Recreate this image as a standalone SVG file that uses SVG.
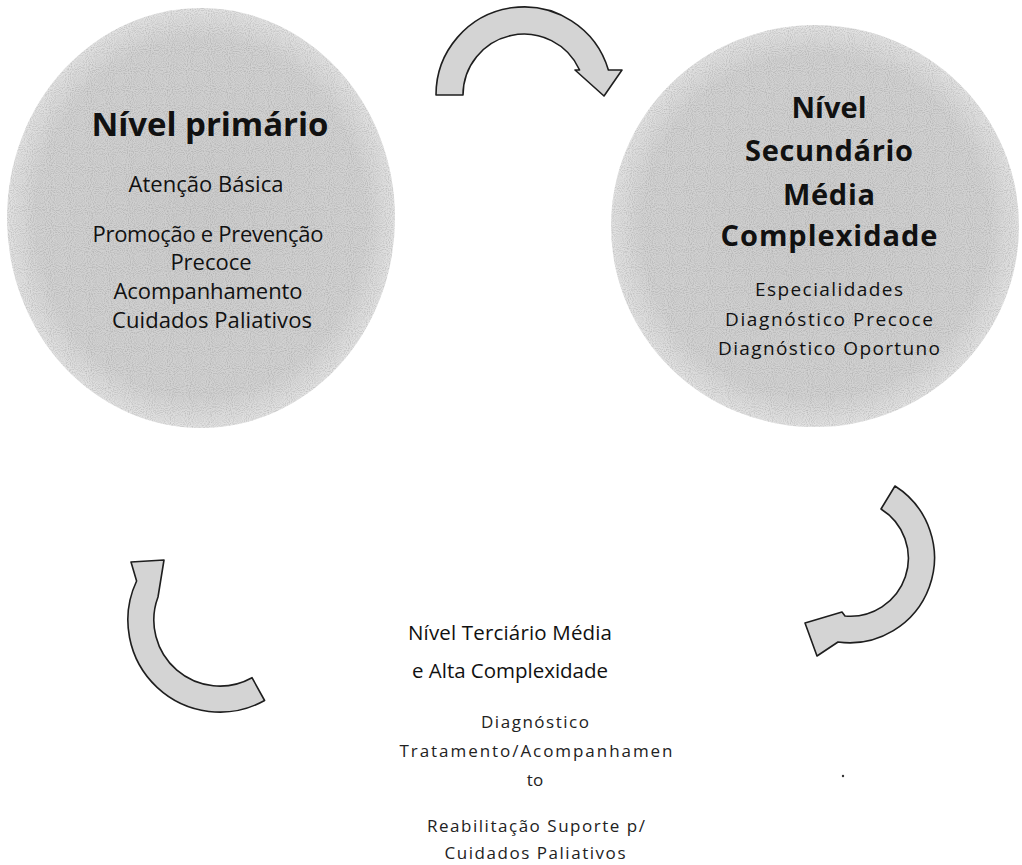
<svg xmlns="http://www.w3.org/2000/svg" width="1022" height="865" viewBox="0 0 1022 865">
  <defs>
    <radialGradient id="blob" cx="50%" cy="50%" r="50%">
      <stop offset="0%" stop-color="#cdcdcd"/>
      <stop offset="85%" stop-color="#d2d2d2"/>
      <stop offset="100%" stop-color="#e2e2e2"/>
    </radialGradient>
    <filter id="grain" x="0" y="0" width="100%" height="100%">
      <feTurbulence type="fractalNoise" baseFrequency="0.95" numOctaves="1" seed="7" result="n"/>
      <feColorMatrix in="n" type="matrix" values="0 0 0 0 0  0 0 0 0 0  0 0 0 0 0  0 0 0 -1.6 0.95" result="dots"/>
      <feComponentTransfer in="dots" result="soft"><feFuncA type="linear" slope="0.45"/></feComponentTransfer>
      <feComposite in="soft" in2="SourceGraphic" operator="in" result="clipped"/>
      <feMerge><feMergeNode in="SourceGraphic"/><feMergeNode in="clipped"/></feMerge>
    </filter>
  </defs>
  <style>
    .blob { fill: url(#blob); stroke: none; }
    .arrow { fill: #d4d4d4; stroke: #1e1e1e; stroke-width: 1.6; stroke-linejoin: round; }
    text { font-family: "Open Sans", "Noto Sans", sans-serif; fill: #111; text-anchor: middle; }
    .h1 { font-size: 33px; font-weight: 700; }
    .h2 { font-size: 29px; font-weight: 700; }
    .b1 { font-size: 22px; }
    .b2 { font-size: 19px; }
    .h3 { font-size: 20.5px; }
    .b3 { font-size: 17px; fill: #222; }
  </style>

  <g id="node-primario">
    <ellipse class="blob" cx="201" cy="218" rx="194" ry="210" filter="url(#grain)"/>
    <text class="h1" x="210" y="136" textLength="237" lengthAdjust="spacing">Nível primário</text>
    <text class="b1" x="206" y="192" textLength="155" lengthAdjust="spacing">Atenção Básica</text>
    <text class="b1" x="208" y="242" textLength="231" lengthAdjust="spacing">Promoção e Prevenção</text>
    <text class="b1" x="211" y="270">Precoce</text>
    <text class="b1" x="208" y="299" textLength="189" lengthAdjust="spacing">Acompanhamento</text>
    <text class="b1" x="212" y="328" textLength="200" lengthAdjust="spacing">Cuidados Paliativos</text>
  </g>

  <g id="node-secundario">
    <ellipse class="blob" cx="815" cy="226" rx="204" ry="201" filter="url(#grain)"/>
    <text class="h2" x="829" y="118" textLength="75" lengthAdjust="spacing">Nível</text>
    <text class="h2" x="829" y="161" textLength="168" lengthAdjust="spacing">Secundário</text>
    <text class="h2" x="829" y="205" textLength="92" lengthAdjust="spacing">Média</text>
    <text class="h2" x="829" y="246" textLength="217" lengthAdjust="spacing">Complexidade</text>
    <text class="b2" x="829" y="296" textLength="148" lengthAdjust="spacing">Especialidades</text>
    <text class="b2" x="829" y="326" textLength="208" lengthAdjust="spacing">Diagnóstico Precoce</text>
    <text class="b2" x="829" y="355" textLength="222" lengthAdjust="spacing">Diagnóstico Oportuno</text>
  </g>

  <g id="node-terciario">
    <text class="h3" x="510" y="640" textLength="204" lengthAdjust="spacing">Nível Terciário Média</text>
    <text class="h3" x="510" y="678" textLength="196" lengthAdjust="spacing">e Alta Complexidade</text>
    <text class="b3" x="535" y="728" textLength="108" lengthAdjust="spacing">Diagnóstico</text>
    <text class="b3" x="536" y="757" textLength="273" lengthAdjust="spacing">Tratamento/Acompanhamen</text>
    <text class="b3" x="535" y="786">to</text>
    <text class="b3" x="536" y="832" textLength="218" lengthAdjust="spacing">Reabilitação Suporte p/</text>
    <text class="b3" x="535" y="859" textLength="181" lengthAdjust="spacing">Cuidados Paliativos</text>
  </g>

  <g id="connectors">
    <path id="arrow-top" class="arrow" d="M 436 95 A 88 88 0 0 1 608.4 70 L 622 70 L 604 96 L 575 70 L 579.6 70 A 61 61 0 0 0 463 95 Z"/>
    <path id="arrow-right" class="arrow" d="M 895 486 A 85 85 0 0 1 838 642 L 817 656 L 805 623 L 842 612 L 845 616 A 58 58 0 0 0 881 509 Z"/>
    <path id="arrow-left" class="arrow" d="M 264.6 700.5 A 92 92 0 0 1 136.6 581 L 131 562 L 164 560 L 158 597 A 66 66 0 0 0 252 677.7 Z"/>
  </g>
  <circle cx="843" cy="776" r="1.2" fill="#333"/>
</svg>
